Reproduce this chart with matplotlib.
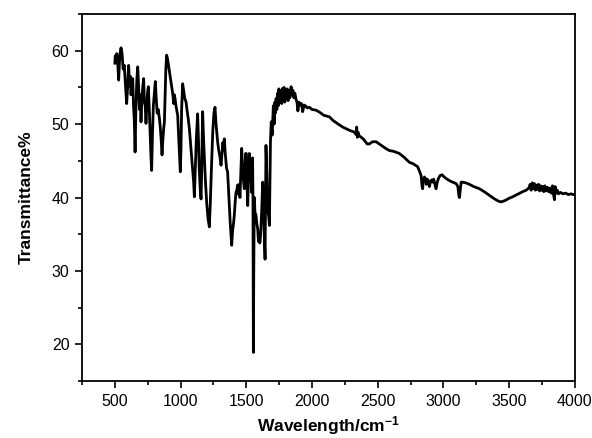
import matplotlib
matplotlib.use("Agg")
import matplotlib.pyplot as plt
from matplotlib.ticker import MultipleLocator

# wavenumber (cm-1) and transmittance (%)
wavenumber = [
    500, 503, 508, 514, 520, 529, 538, 547, 555, 563, 572, 580, 590, 597, 605,
    612, 618, 623, 630, 636, 642, 648, 654, 660, 667, 674, 680, 687, 693, 699,
    706, 712, 719, 725, 731, 737, 744, 750, 755, 762, 770, 775, 780, 786, 793,
    800, 808, 815, 822, 830, 839, 846, 852, 859, 866, 872, 877, 883, 888, 894,
    900, 910, 920, 930, 940, 948, 953, 958, 965, 972, 978, 985, 992, 998, 1003,
    1008, 1016, 1024, 1032, 1042, 1050, 1058, 1067, 1080, 1092, 1100, 1105, 1112,
    1120, 1130, 1136, 1142, 1150, 1156, 1160, 1165, 1168, 1175, 1182, 1190, 1200,
    1210, 1219, 1226, 1235, 1245, 1254, 1262, 1270, 1277, 1282, 1290, 1300, 1308,
    1315, 1322, 1328, 1333, 1340, 1350, 1358, 1368, 1378, 1389, 1396, 1403, 1409,
    1416, 1422, 1428, 1434, 1440, 1446, 1452, 1458, 1465, 1472, 1478, 1485, 1490,
    1495, 1500, 1505, 1511, 1517, 1523, 1528, 1534, 1541, 1545, 1548, 1551, 1554,
    1557, 1561, 1566, 1574, 1580, 1587, 1593, 1598, 1603, 1607, 1612, 1618, 1625,
    1630, 1636, 1643, 1646, 1650, 1655, 1660, 1666, 1670, 1676, 1680, 1684, 1690,
    1697, 1701, 1706, 1712, 1718, 1722, 1727, 1733, 1738, 1743, 1748, 1753, 1758,
    1765, 1770, 1777, 1782, 1788, 1793, 1800, 1806, 1812, 1818, 1825, 1832, 1841,
    1848, 1855, 1862, 1870, 1878, 1886, 1893, 1900, 1910, 1920, 1929, 1940, 1950,
    1965, 1980, 2000, 2031, 2060, 2090, 2132, 2160, 2200, 2234, 2280, 2323, 2335,
    2340, 2345, 2350, 2360, 2390, 2420, 2437, 2460, 2488, 2520, 2560, 2589, 2620,
    2665, 2700, 2741, 2770, 2804, 2820, 2830, 2838, 2842, 2848, 2856, 2863, 2870,
    2878, 2885, 2893, 2900, 2910, 2918, 2926, 2935, 2944, 2952, 2962, 2975, 2990,
    3000, 3020, 3046, 3070, 3097, 3110, 3118, 3122, 3128, 3135, 3147, 3170, 3198,
    3230, 3274, 3310, 3350, 3390, 3420, 3439, 3470, 3500, 3527, 3560, 3603, 3630,
    3650, 3660, 3668, 3676, 3684, 3692, 3700, 3708, 3716, 3724, 3732, 3740, 3748,
    3756, 3764, 3772, 3780, 3790, 3800, 3810, 3820, 3830, 3838, 3845, 3850, 3858,
    3866, 3875, 3890, 3910, 3930, 3950, 3970, 3990, 4000,
]
transmittance = [
    58.3, 59.3, 58.6, 59.6, 58.9, 56.0, 59.5, 60.4, 59.6, 57.5, 58.0, 55.5, 52.8, 55.0, 58.0,
    55.2, 56.5, 54.0, 55.8, 56.2, 52.5, 50.5, 46.2, 52.0, 56.0, 57.8, 55.5, 52.0, 54.0, 50.3,
    53.5, 55.0, 56.2, 53.0, 52.5, 50.1, 53.0, 54.5, 55.1, 52.0, 48.0, 45.5, 43.7, 48.5, 52.5,
    54.0, 55.8, 53.5, 51.5, 52.0, 50.8, 49.5, 48.0, 45.8, 48.0, 49.5, 50.3, 54.0, 57.5, 59.4,
    59.0, 57.8, 56.5, 55.5, 54.2, 52.8, 54.0, 53.5, 52.5, 51.8, 51.2, 48.5, 45.5, 43.5, 46.5,
    52.0, 55.5, 54.5, 53.5, 53.0, 51.8, 50.8, 49.4, 46.5, 44.0, 42.0, 40.1, 44.0,
    48.0, 51.4, 48.0, 44.0, 41.0, 39.8, 43.0, 49.0, 51.7, 48.0, 45.0, 42.0, 39.0,
    37.0, 36.0, 39.0, 44.0, 49.0, 51.5, 52.3, 50.0, 48.5, 47.6, 46.5, 45.5, 44.4,
    46.0, 47.5, 46.5, 48.0, 46.0, 44.0, 43.5, 40.0, 36.5, 33.5, 35.5, 36.5, 37.6,
    39.5, 40.7, 41.0, 41.7, 40.5, 41.8, 40.0, 43.0, 46.7, 44.0, 42.5, 41.2, 44.0,
    46.0, 46.0, 42.0, 38.9, 43.0, 46.0, 45.0, 43.5, 40.7, 44.0, 45.4, 40.0, 18.9,
    29.8, 40.0, 38.0, 37.6, 36.5, 35.7, 34.0, 34.8, 33.8, 34.4, 36.0, 38.5, 42.1,
    40.0, 35.5, 31.6, 38.0, 47.1, 44.0, 40.0, 38.0, 37.5, 36.2, 42.0, 47.6, 50.3,
    48.5, 50.3, 52.5, 50.0, 53.0, 51.5, 53.5, 52.0, 54.2, 52.5, 54.8, 53.0, 54.5,
    54.6, 52.8, 54.9, 53.2, 55.0, 53.0, 54.5, 53.5, 54.8, 53.2, 54.6, 53.6, 55.1,
    54.0, 54.6, 53.6, 54.2, 53.4, 53.0, 51.8, 53.0, 52.6, 52.8, 51.7, 52.6, 52.5,
    52.2, 52.3, 52.0, 51.9, 51.6, 51.2, 51.0, 50.5, 50.0, 49.6, 49.2, 48.9, 48.6,
    49.6, 48.2, 48.9, 48.4, 48.0, 47.3, 47.3, 47.6, 47.6, 47.2, 46.7, 46.4, 46.3,
    46.0, 45.5, 44.8, 44.6, 44.2, 43.5, 43.0, 41.5, 41.2, 42.5, 42.8, 42.6, 41.8,
    42.5, 42.3, 41.5, 42.0, 42.4, 42.1, 42.5, 41.8, 41.2, 42.0, 42.6, 43.0, 43.1,
    42.9, 42.6, 42.3, 42.1, 41.9, 41.5, 40.2, 40.0, 41.0, 42.1, 42.1, 42.0, 41.8,
    41.5, 41.2, 40.8, 40.3, 39.8, 39.5, 39.4, 39.6, 39.9, 40.1, 40.4, 40.8, 41.0,
    41.3, 41.8, 41.0, 42.0, 41.2, 41.9, 41.0, 41.7, 41.1, 41.8, 40.9, 41.6, 41.0,
    41.5, 40.8, 41.6, 40.9, 41.4, 40.8, 41.3, 40.6, 41.6, 40.4, 39.7, 41.5, 40.6,
    41.0, 40.5, 40.7, 40.5, 40.6, 40.4, 40.5, 40.4, 40.4,
]

plt.rcParams["font.family"] = ["Liberation Sans", "DejaVu Sans"]
plt.rcParams["mathtext.default"] = "regular"

fig = plt.figure(figsize=(5.92, 4.38), dpi=100)
ax = fig.add_axes([0.1385, 0.130, 0.8325, 0.838])

ax.plot(wavenumber, transmittance, color="black", linewidth=2.0)

ax.set_xlim(250, 4000)
ax.set_ylim(15, 65)
ax.xaxis.set_major_locator(MultipleLocator(500))
ax.xaxis.set_minor_locator(MultipleLocator(250))
ax.yaxis.set_major_locator(MultipleLocator(10))
ax.yaxis.set_minor_locator(MultipleLocator(5))
ax.set_xticks(range(500, 4001, 500))
ax.tick_params(which="both", direction="out", top=False, right=False,
               width=1.2, labelsize=11.5, colors="black")
ax.tick_params(which="major", length=5, pad=4)
ax.tick_params(which="minor", length=3)
for spine in ax.spines.values():
    spine.set_linewidth(1.3)

ax.set_xlabel("Wavelength/cm$^{-1}$", fontsize=12.5, fontweight="bold", labelpad=4)
ax.set_ylabel("Transmittance%", fontsize=12.5, fontweight="bold", labelpad=13)

fig.savefig("out.png", dpi=100)
